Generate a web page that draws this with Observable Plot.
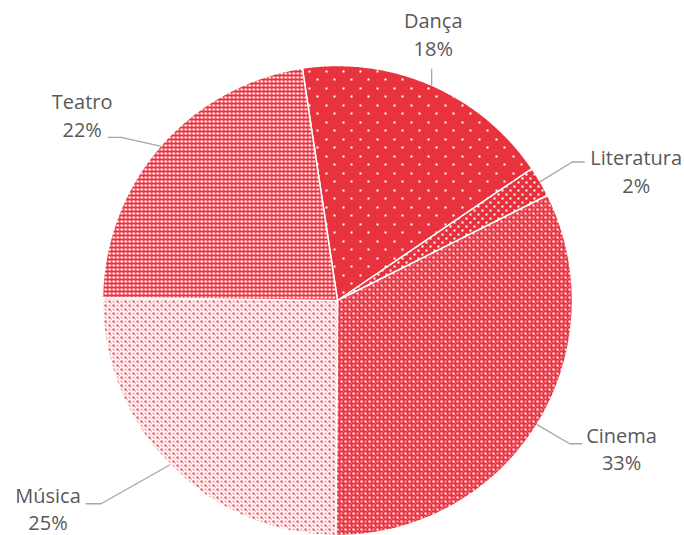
<!DOCTYPE html>
<html><head><meta charset="utf-8">
<script src="https://cdn.jsdelivr.net/npm/d3@7"></script>
<script src="https://cdn.jsdelivr.net/npm/@observablehq/plot@0.6"></script>
<style>body{margin:0;background:#fff;}</style>
</head><body><div id="chart"></div>
<script>
// ---- data ----
const categories = ["Dança", "Literatura", "Cinema", "Música", "Teatro"];
const shares = [17.9, 2.1, 32.5, 25.1, 22.4];
const valueLabels = ["18%", "2%", "33%", "25%", "22%"];
const patternIds = ["pat-danca", "pat-lit", "pat-cinema", "pat-musica", "pat-teatro"];

// ---- layout ----
const W = 684, H = 535, CX = 337, CY = 300, R = 235;
const START_DEG = -8.6;
const RED = "#E8333F", PINK = "#F3A0A6";
// label block position (polar from pie centre) and leader geometry relative to the label
const labelAngle = [19.7, 66.4, 117.4, 234.4, 306.1];
const labelDist = [284, 326, 320, 356, 316];
const leadEnd = [[null, 36], [-52, -8], [-40, -4], [38, -4], [26, 23]];
const leadElbow = [0, -12, -12, 15, 13];

const rad = d => d * Math.PI / 180;
const polar = (a, d) => ({x: CX + d * Math.sin(a), y: CY - d * Math.cos(a)});

const arcs = d3.pie().sort(null).value(d => d)
  .startAngle(rad(START_DEG)).endAngle(rad(START_DEG) + 2 * Math.PI)(shares);

const slices = arcs.map((a, i) => {
  const pts = [{cat: categories[i], ...polar(0, 0)}];
  const n = Math.max(2, Math.ceil((a.endAngle - a.startAngle) / (Math.PI / 360)));
  for (let k = 0; k <= n; k++) {
    const t = a.startAngle + (a.endAngle - a.startAngle) * k / n;
    pts.push({cat: categories[i], ...polar(t, R)});
  }
  return pts;
});

const labelRows = categories.map((c, i) => ({
  text: `${c}\n${valueLabels[i]}`, ...polar(rad(labelAngle[i]), labelDist[i])
}));

const leaderPts = [];
arcs.forEach((a, i) => {
  const mid = (a.startAngle + a.endAngle) / 2;
  const edge = polar(mid, R);
  const lab = labelRows[i];
  const [ex, ey] = leadEnd[i];
  const end = {x: ex === null ? edge.x : lab.x + ex, y: lab.y + ey};
  leaderPts.push({cat: categories[i], ...end});
  if (leadElbow[i]) leaderPts.push({cat: categories[i], x: end.x + leadElbow[i], y: end.y});
  leaderPts.push({cat: categories[i], ...edge});
});

const chart = Plot.plot({
  width: W, height: H, margin: 0,
  x: {domain: [0, W], range: [0, W], axis: null},
  y: {domain: [0, H], range: [0, H], axis: null},
  style: {fontFamily: "'Open Sans', sans-serif", background: "white"},
  marks: [
    Plot.dot([{x: CX, y: CY}], {x: "x", y: "y", r: R, fill: "white", stroke: "none", ariaLabel: "pie-shadow"}),
    ...slices.map((pts, i) => Plot.line(pts, {x: "x", y: "y", fill: `url(#${patternIds[i]})`,
      stroke: "white", strokeWidth: 1.5, curve: "linear-closed", strokeLinejoin: "round"})),
    Plot.line(leaderPts, {x: "x", y: "y", z: "cat", stroke: "#A6A6A6", strokeWidth: 1.3}),
    Plot.text(labelRows, {x: "x", y: "y", text: "text", fill: "#595959", fontSize: 20,
      lineHeight: 1.38, textAnchor: "middle"})
  ]
});

// ---- patterns & shadow ----
const svg = d3.select(chart);
const defs = svg.insert("defs", ":first-child");
function pattern(id, size, bg, rects) {
  const p = defs.append("pattern").attr("id", id).attr("patternUnits", "userSpaceOnUse")
    .attr("width", size[0]).attr("height", size[1]);
  p.append("rect").attr("width", size[0]).attr("height", size[1]).attr("fill", bg);
  rects.forEach(([x, y, w, h, c]) => p.append("rect").attr("x", x).attr("y", y)
    .attr("width", w).attr("height", h).attr("fill", c));
}
pattern("pat-danca", [17, 17], RED, [[2, 2, 2, 2, "#fff"], [10, 10, 2, 2, "#fff"]]);
pattern("pat-lit", [8, 8], RED, [[1, 1, 2, 2, "#fff"], [5, 5, 2, 2, "#fff"]]);
pattern("pat-cinema", [8, 8], RED, [[0, 0, 2, 2, "#fff"], [4, 4, 2, 2, "#fff"],
  [4, 0, 2, 2, PINK], [0, 4, 2, 2, PINK], [2, 2, 1, 1, PINK], [6, 6, 1, 1, PINK]]);
pattern("pat-musica", [8, 8], "#fff", [[0, 0, 2, 2, RED], [4, 4, 2, 2, RED],
  [4, 0, 2, 2, PINK], [0, 4, 2, 2, PINK], [2, 2, 1, 1, RED], [6, 6, 1, 1, RED],
  [6, 2, 1, 1, PINK], [2, 6, 1, 1, PINK]]);
pattern("pat-teatro", [4, 4], RED, [[0, 0, 2, 2, "#fff"], [2, 0, 1, 2, PINK]]);
const f = defs.append("filter").attr("id", "pie-shadow")
  .attr("x", "-10%").attr("y", "-10%").attr("width", "120%").attr("height", "120%");
f.append("feDropShadow").attr("dx", 0).attr("dy", 0).attr("stdDeviation", 3)
  .attr("flood-color", "#000").attr("flood-opacity", 0.3);
svg.select('g[aria-label="pie-shadow"]').attr("filter", "url(#pie-shadow)");

document.getElementById("chart").append(chart);
</script>
</body></html>
